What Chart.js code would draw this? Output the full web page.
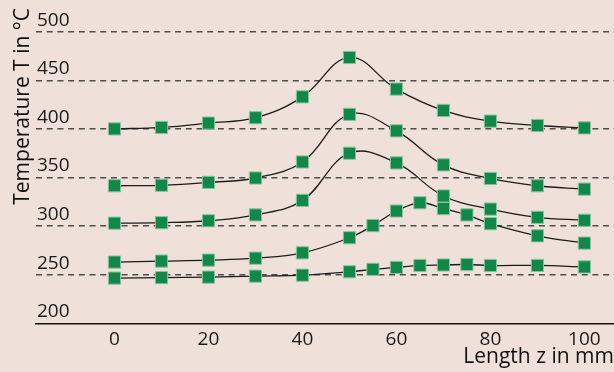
<!DOCTYPE html>
<html>
<head>
<meta charset="utf-8">
<script src="https://cdn.jsdelivr.net/npm/chart.js@4/dist/chart.umd.min.js"></script>
<style>
  html, body { margin: 0; padding: 0; background: #efe1da; }
  #wrap { width: 614px; height: 372px; }
</style>
</head>
<body>
<div id="wrap"><canvas id="c" width="614" height="372"></canvas></div>
<script>
// Positions along the length (mm)
const zCoarse = [0, 10, 20, 30, 40, 50, 60, 70, 80, 90, 100];
const zFine = [0, 10, 20, 30, 40, 50, 55, 60, 65, 70, 75, 80, 90, 100];

// Temperature profiles (°C)
const tempA = [400, 401.5, 406, 411.5, 433, 473.5, 441, 419, 408, 403.5, 401];
const tempB = [341.5, 342, 345, 349.5, 366, 415, 398, 363, 349, 341.5, 338];
const tempC = [303, 303.5, 305.5, 311.5, 326.5, 375, 365, 331, 317.5, 309, 306];
const tempD = [263, 264, 265, 267, 272.5, 288, 300.5, 315.5, 324, 318, 311.5, 302.5, 290, 282.5];
const tempE = [246.5, 247, 247.5, 248.5, 249.5, 253, 255.5, 257.5, 259.5, 260, 260.5, 259.5, 259.5, 258];

// Axis ticks
const xTicks = [0, 20, 40, 60, 80, 100];
const yTicks = [200, 250, 300, 350, 400, 450, 500];

const pair = (xs, ys) => xs.map((x, i) => ({ x: x, y: ys[i] }));

const series = [
  pair(zCoarse, tempA),
  pair(zCoarse, tempB),
  pair(zCoarse, tempC),
  pair(zFine, tempD),
  pair(zFine, tempE)
];

const FONT = "'Open Sans', 'Noto Sans', sans-serif";

new Chart(document.getElementById('c'), {
  type: 'line',
  data: {
    datasets: series.map(d => ({
      data: d,
      borderColor: '#1c1c1c',
      borderWidth: 1.3,
      tension: 0.4,
      fill: false,
      pointStyle: 'rect',
      pointRadius: 8.6,
      pointBackgroundColor: '#11874a',
      pointBorderColor: '#86c39a',
      pointBorderWidth: 1
    }))
  },
  options: {
    responsive: false,
    animation: false,
    layout: { autoPadding: false, padding: { top: 8, left: 0, right: 0, bottom: 0 } },
    plugins: { legend: { display: false }, tooltip: { enabled: false } },
    scales: {
      x: {
        type: 'linear',
        min: -16.7,
        max: 106.3,
        afterBuildTicks: s => { s.ticks = xTicks.map(v => ({ value: v })); },
        afterFit: s => { s.height = 48.7; s.paddingLeft = 0; s.paddingRight = 0; },
        grid: { display: false, drawTicks: false },
        border: { display: true, color: '#111', width: 1.6 },
        ticks: {
          color: '#1a1a1a',
          padding: 8,
          font: { family: FONT, size: 19, lineHeight: 0.9 }
        },
        title: {
          display: true,
          text: 'Length z in mm',
          align: 'end',
          color: '#111',
          padding: { top: 0, bottom: 5.5 },
          font: { family: FONT, size: 21, lineHeight: 0.9 }
        }
      },
      y: {
        type: 'linear',
        min: 200,
        max: 524.4,
        afterBuildTicks: s => { s.ticks = yTicks.map(v => ({ value: v })); },
        afterFit: s => { s.width = 36; s.paddingTop = 0; s.paddingBottom = 0; },
        grid: {
          drawTicks: false,
          color: c => (c.tick && c.tick.value === 200) ? 'rgba(0,0,0,0)' : 'rgba(45,45,45,0.82)',
          lineWidth: 1.5
        },
        border: { display: false, dash: [6, 4.7] },
        ticks: {
          mirror: true,
          padding: 1,
          labelOffset: -11.5,
          color: '#1a1a1a',
          font: { family: FONT, size: 19, lineHeight: 0.8 }
        },
        title: {
          display: true,
          text: 'Temperature T in °C',
          align: 'end',
          color: '#111',
          padding: { top: 10.9, bottom: 0 },
          font: { family: FONT, size: 21, lineHeight: 1.2 }
        }
      }
    }
  }
});
</script>
</body>
</html>
